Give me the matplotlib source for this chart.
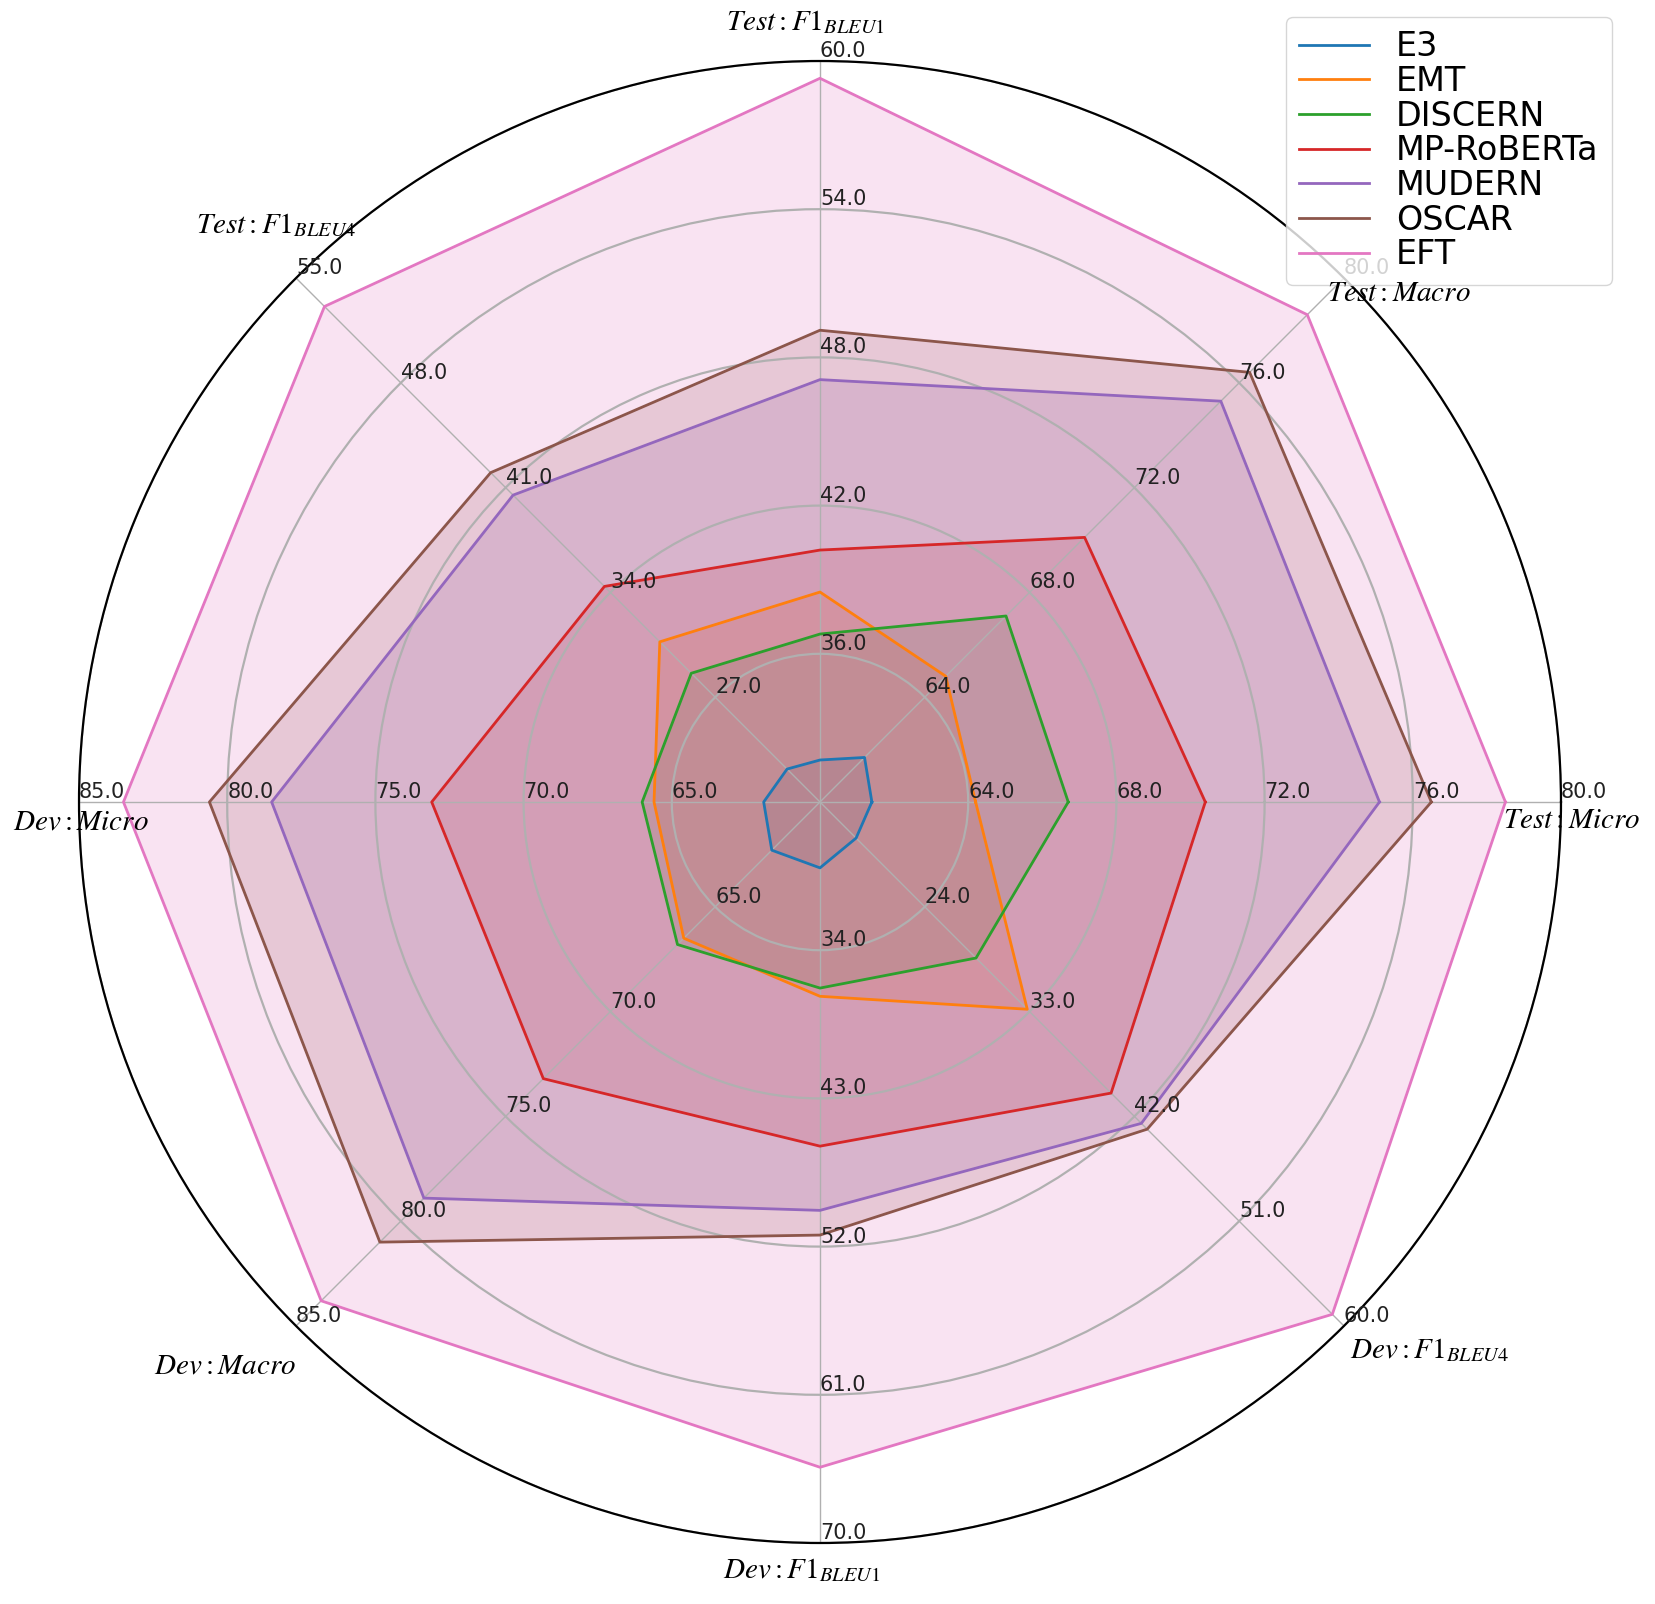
import numpy as np
import matplotlib.pyplot as plt

plt.rcParams['mathtext.fontset'] = 'stix'

# 维度（从右侧 0° 开始逆时针）
dims = [r'$Test: Micro$', r'$Test: Macro$', r'$Test: F1_{BLEU1}$', r'$Test: F1_{BLEU4}$',
        r'$Dev: Micro$', r'$Dev: Macro$', r'$Dev: F1_{BLEU1}$', r'$Dev: F1_{BLEU4}$']

# 每个维度的中心值和环上的刻度
axis_min = [60, 60, 30, 20, 60, 60, 25, 15]
ticks_test_micro = [64, 68, 72, 76, 80]
ticks_test_macro = [64, 68, 72, 76, 80]
ticks_test_bleu1 = [36, 42, 48, 54, 60]
ticks_test_bleu4 = [27, 34, 41, 48, 55]
ticks_dev_micro = [65, 70, 75, 80, 85]
ticks_dev_macro = [65, 70, 75, 80, 85]
ticks_dev_bleu1 = [34, 43, 52, 61, 70]
ticks_dev_bleu4 = [24, 33, 42, 51, 60]
axis_ticks = [ticks_test_micro, ticks_test_macro, ticks_test_bleu1, ticks_test_bleu4,
              ticks_dev_micro, ticks_dev_macro, ticks_dev_bleu1, ticks_dev_bleu4]

# 各模型的分数
models = ['E3', 'EMT', 'DISCERN', 'MP-RoBERTa', 'MUDERN', 'OSCAR', 'EFT']
e3 = [61.4, 61.7, 31.7, 22.2, 61.9, 62.3, 29.0, 18.1]
emt = [64.2, 64.8, 38.5, 30.7, 65.6, 66.5, 36.8, 32.8]
discern = [66.7, 67.1, 36.8, 28.6, 66.0, 66.8, 36.3, 28.4]
mp_roberta = [70.4, 70.1, 40.2, 34.4, 73.1, 73.2, 45.9, 40.0]
mudern = [75.1, 75.3, 47.1, 40.5, 78.5, 78.9, 49.8, 42.6]
oscar = [76.5, 76.4, 49.1, 42.0, 80.6, 81.0, 51.3, 43.1]
eft = [78.5, 78.6, 59.3, 53.1, 83.5, 83.8, 65.4, 59.0]
scores = [e3, emt, discern, mp_roberta, mudern, oscar, eft]

W, H = 1656, 1604
fig = plt.figure(figsize=(W / 100, H / 100), dpi=100)
ax = fig.add_axes([79 / W, (H - 1543) / H, 1482 / W, 1482 / H], projection='polar')

n = len(dims)
angles = np.linspace(0, 2 * np.pi, n, endpoint=False)
rings = [0.2, 0.4, 0.6, 0.8, 1.0]

colors = plt.rcParams['axes.prop_cycle'].by_key()['color']
for name, vals, c in zip(models, scores, colors):
    r = [(v - lo) / (t[-1] - lo) for v, lo, t in zip(vals, axis_min, axis_ticks)]
    r = r + r[:1]
    th = list(angles) + [angles[0]]
    ax.plot(th, r, color=c, linewidth=2, label=name)
    ax.fill(th, r, color=c, alpha=0.2)

ax.set_ylim(0, 1)
ax.set_yticks(rings)
ax.set_yticklabels([])
ax.set_xticks(angles)
ax.set_xticklabels([])
ax.yaxis.grid(True, color='#b0b0b0', linewidth=1.6)
ax.xaxis.grid(True, color='#b0b0b0', linewidth=1.0)
ax.spines['polar'].set_linewidth(1.6)

# 每个维度自己的刻度
for a, t in zip(angles, axis_ticks):
    for rr, v in zip(rings, t):
        ax.text(a, rr, f'{v:.1f}', ha='left', va='bottom', fontsize=15,
                color='#222222', zorder=10, clip_on=False)

# 维度名称
label_pos = [(1572, 820), (1399, 293), (805, 22), (276, 225),
             (81, 822), (225, 1366), (802, 1570), (1430, 1350)]
for d, (px, py) in zip(dims, label_pos):
    fig.text(px / W, 1 - py / H, d, ha='center', va='center', fontsize=21, zorder=11)

fig.legend(loc='upper right', bbox_to_anchor=(1612 / W, 1 - 17 / H), borderaxespad=0,
           fontsize=24, labelspacing=0.05, handlelength=2.1)

plt.savefig('out.png', dpi=100)
